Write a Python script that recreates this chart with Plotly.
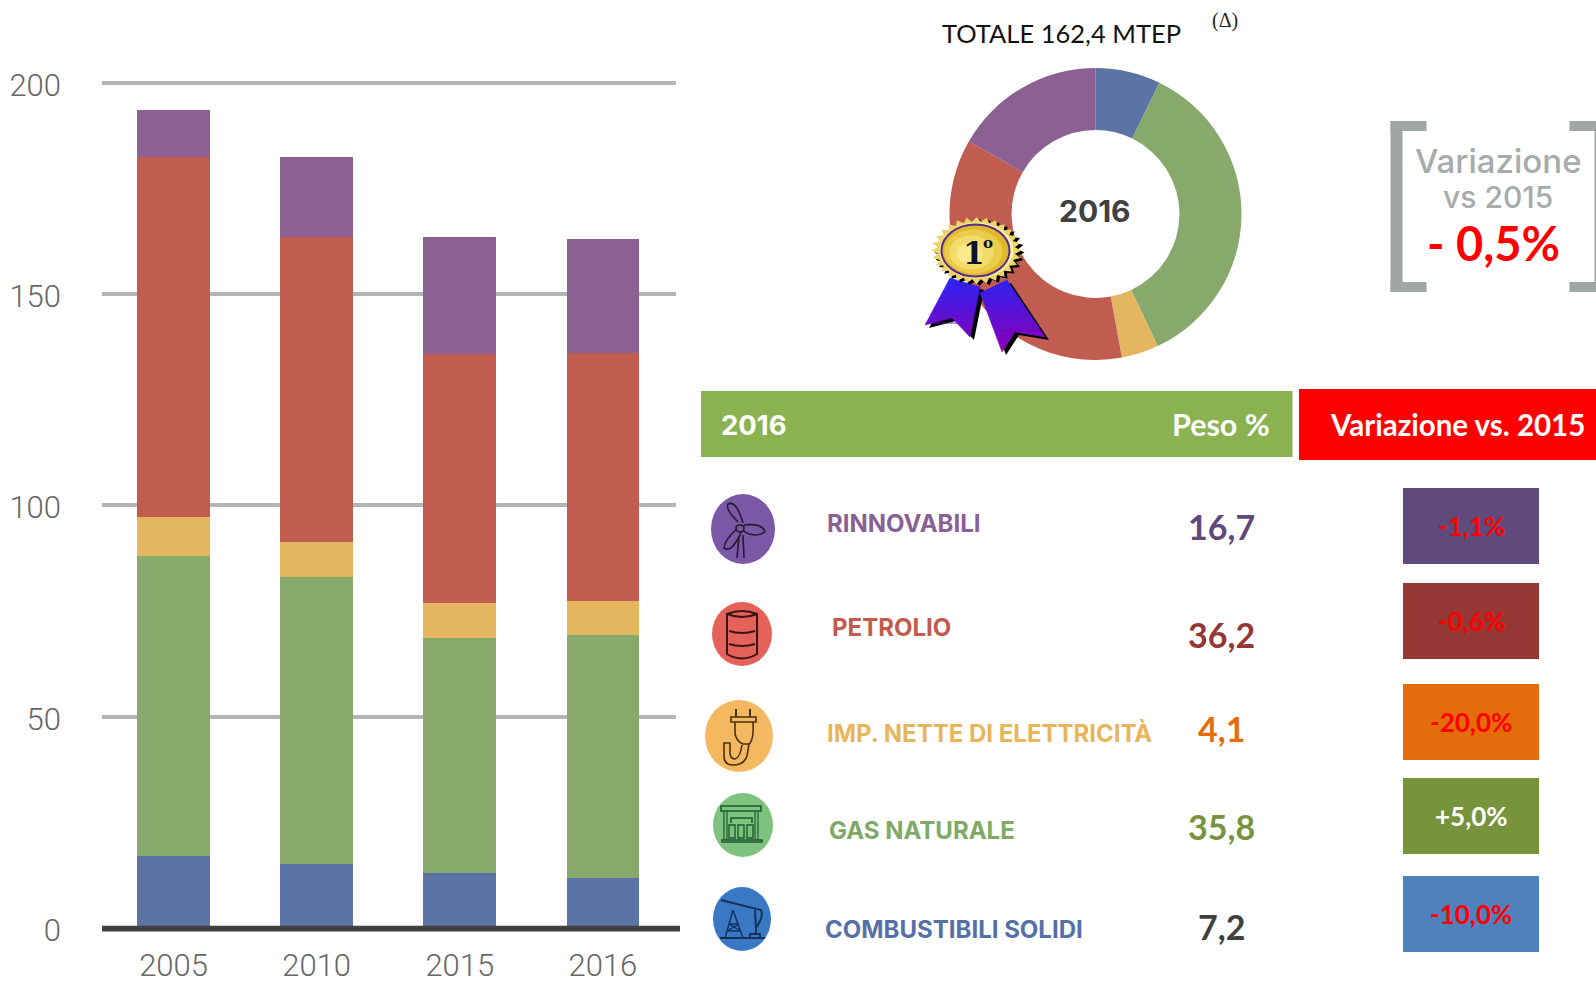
import re
import math
import plotly.graph_objects as go

# ---------- data ----------
years = ["2005", "2010", "2015", "2016"]
solidi = [17.1, 15.2, 13.0, 11.8]
gas = [70.9, 67.9, 55.7, 57.6]
elettricita = [9.3, 8.2, 8.2, 7.9]
petrolio = [85.1, 72.1, 59.0, 58.8]
rinnovabili = [11.1, 19.0, 27.5, 27.0]
y_ticks = [0, 50, 100, 150, 200]

fonti = ["COMBUSTIBILI SOLIDI", "GAS NATURALE", "IMP. NETTE DI ELETTRICITÀ", "PETROLIO", "RINNOVABILI"]
peso = [7.2, 35.8, 4.1, 36.2, 16.7]
colori = ["#5c73a5", "#87aa6c", "#e4b660", "#c15c50", "#8c6092"]

righe = ["RINNOVABILI", "PETROLIO", "IMP. NETTE DI ELETTRICITÀ", "GAS NATURALE", "COMBUSTIBILI SOLIDI"]
peso_txt = ["16,7", "36,2", "4,1", "35,8", "7,2"]
var_txt = ["-1,1%", "-0,6%", "-20,0%", "+5,0%", "-10,0%"]
var_col = ["#ff0000", "#ff0000", "#ff0000", "#ffffff", "#ff0000"]
riga_lab_col = ["#8a5f96", "#c25a4e", "#e8b55a", "#7fa966", "#5570a8"]
riga_val_col = ["#604a7b", "#953735", "#e46c0a", "#77933c", "#404040"]
riga_box_col = ["#604a7b", "#953735", "#e46c0a", "#77933c", "#4f81bd"]
icona_col = ["#7a58a6", "#e5625a", "#f4b860", "#7fc27f", "#3a78c4"]

W, H = 1596, 983
LAT = "Lato, Carlito, sans-serif"
MON = "Inter, sans-serif"

fig = go.Figure()
for name, vals, col in zip(fonti, [solidi, gas, elettricita, petrolio, rinnovabili], colori):
    fig.add_bar(x=years, y=vals, name=name, marker=dict(color=col, line=dict(width=0)), xaxis="x", yaxis="y")

cx, cy, R = 1095.5, 214, 146
fig.add_pie(labels=fonti, values=peso, hole=0.575, sort=False, direction="clockwise", rotation=0,
            marker=dict(colors=colori, line=dict(width=0)), textinfo="none", automargin=False,
            domain=dict(x=[(cx - R) / W, (cx + R) / W], y=[1 - (cy + R) / H, 1 - (cy - R) / H]))

shapes, notes = [], []


def rect(x0, y0, x1, y1, col):
    shapes.append(dict(type="rect", xref="x2", yref="y2", x0=x0, y0=y0, x1=x1, y1=y1,
                       fillcolor=col, line=dict(width=0), layer="above"))


def ell(ex, ey, rx, ry, col, line=None, lw=0):
    shapes.append(dict(type="circle", xref="x2", yref="y2", x0=ex - rx, y0=ey - ry, x1=ex + rx, y1=ey + ry,
                       fillcolor=col, line=dict(width=lw, color=line or col), layer="above"))


def shift(px, py, d):
    out, isx = [], True
    for t in re.findall(r"[MLQCZ]|-?\d+\.?\d*", d):
        if t.isalpha():
            out.append(t)
        else:
            out.append(f"{float(t) + (px if isx else py):.2f}")
            isx = not isx
    return " ".join(out)


def glyph(px, py, d, col, lw=1.6, fill="rgba(0,0,0,0)"):
    shapes.append(dict(type="path", xref="x2", yref="y2", path=shift(px, py, d),
                       line=dict(color=col, width=lw), fillcolor=fill, layer="above"))


def poly(pts, col, lw=0):
    d = "M " + " L ".join(f"{a:.2f} {b:.2f}" for a, b in pts) + " Z"
    shapes.append(dict(type="path", xref="x2", yref="y2", path=d, fillcolor=col,
                       line=dict(width=lw, color=col), layer="above"))


def txt(x, y, s, size, col, fam=LAT, bold=False, anchor="center", weight=None):
    f = dict(size=size, color=col, family=fam)
    if weight:
        f["weight"] = weight
    notes.append(dict(xref="x2", yref="y2", x=x, y=y, text=f"<b>{s}</b>" if bold else s, showarrow=False,
                      xanchor=anchor, yanchor="middle", font=f))


# baseline
rect(102, 925.8, 680, 931.6, "#404040")

# heading
txt(940, 33, "TOTALE 162,4 MTEP", 25.5, "#111111", anchor="left")
txt(1224.5, 20, "(Δ)", 20, "#222222", fam="Liberation Serif")
txt(1095, 211, "2016", 30, "#404040", fam=MON, bold=True)

# bracket
GR = "#a0a5a5"
rect(1390.5, 121, 1402.5, 292, GR)
rect(1390.5, 121, 1426.5, 131, GR)
rect(1390.5, 282, 1426.5, 292, GR)
rect(1569.5, 121, 1596, 131, GR)
rect(1569.5, 282, 1596, 292, GR)
rect(1594.5, 121, 1596, 292, GR)
txt(1498, 161, "Variazione", 33, "#a6abab", fam=MON, weight=500)
txt(1498, 197, "vs 2015", 30, "#a6abab", fam=MON, weight=500)
txt(1493, 243, "- 0,5%", 47, "#ff0000", bold=True)


# medal
def clip(pts, y0, y1):
    def cut(ps, keep, yb):
        res = []
        for i, p in enumerate(ps):
            q = ps[(i + 1) % len(ps)]
            if keep(p):
                res.append(p)
            if keep(p) != keep(q):
                t = (yb - p[1]) / (q[1] - p[1])
                res.append((p[0] + t * (q[0] - p[0]), yb))
        return res
    r = cut(pts, lambda p: p[1] >= y0, y0)
    return cut(r, lambda p: p[1] <= y1, y1) if r else r


ribbons = [[(950, 278), (980, 287), (970, 337), (952, 318), (925, 325)],
           [(980, 293), (1007, 280), (1045, 337), (1015, 332), (1002, 352)]]
for rb in ribbons:
    poly([(a + 4, b + 3) for a, b in rb], "#000000")
    n = 10
    for i in range(n):
        y0 = 278 + i * 7.5
        pc = clip(rb, y0, y0 + 7.6)
        if len(pc) > 2:
            t = i / (n - 1)
            col = f"rgb({int(48 + t * 90)},{int(34 - t * 34)},{int(240 - t * 55)})"
            poly(pc, col, 0.5)

mx, my = 976.5, 250.5
teeth = 28
star = []
for i in range(teeth * 2):
    a = math.pi * i / teeth
    k = 1.0 if i % 2 == 0 else 0.86
    star.append((mx + 45 * k * math.cos(a), my + 33.5 * k * math.sin(a)))
poly([(a + 3, b + 2) for a, b in star], "#000000")
poly(star, "#ecd566")
ell(mx, my, 37, 28, "#fbf2a8")
ell(mx - 1, my, 34, 26, "#e0b830", "#5a2a8a", 2)
ell(mx - 3, my + 1, 29, 22, "#eccb48")
ell(mx - 5, my + 2, 22, 17, "#f3dc6a")
ell(mx - 7, my + 3, 13, 10, "#f9e98c")
txt(974, 253, "1", 31, "#0b1530", fam="DejaVu Serif", bold=True)
txt(988, 243, "o", 15, "#0b1530", fam="DejaVu Serif", bold=True)

# table header
rect(701, 391, 1292.5, 457, "#8bb251")
rect(1299, 389, 1596, 460, "#ff0000")
txt(719, 424.5, "2016", 27.5, "#ffffff", fam=MON, bold=True, anchor="left")
txt(1170, 424, "Peso %", 30.5, "#ffffff", bold=True, anchor="left")
txt(1327.5, 424, "Variazione vs. 2015", 29.5, "#ffffff", bold=True, anchor="left")

# table rows
lab_x = [825, 830, 825, 827, 823]
lab_y = [523, 627, 733, 830, 929]
val_y = [526, 634, 728, 826, 926]
box_y = [(488, 564), (583, 659), (684, 760), (778, 854), (876, 952)]
var_y = [526, 621, 722, 816, 914]
ic_c = [(743, 529, 32, 35), (742, 634, 30, 32), (739, 736, 34, 36), (743, 825, 30, 32), (742, 919, 29, 32)]
for i in range(5):
    txt(lab_x[i], lab_y[i], righe[i], 24, riga_lab_col[i], fam=MON, bold=True, anchor="left")
    txt(1221, val_y[i], peso_txt[i], 34, riga_val_col[i], bold=True)
    rect(1403, box_y[i][0], 1539, box_y[i][1], riga_box_col[i])
    txt(1471, var_y[i], var_txt[i], 26, var_col[i], bold=True)
    ell(ic_c[i][0], ic_c[i][1], ic_c[i][2], ic_c[i][3], icona_col[i])

# icons
K = "#231a2e"
p = (743, 529)
glyph(*p, "M -5 -7 Q -18 -20 -15 -25 Q -9 -28 -4 -17 Q -1 -10 0 -6", K)
glyph(*p, "M 1 -4 Q 18 -6 22 2 Q 18 8 6 5 Q 1 3 0 1", K)
glyph(*p, "M -6 0 Q -18 10 -19 19 Q -13 23 -7 13 Q -3 7 -2 3", K)
glyph(*p, "M -3 -4 Q 1 -4 1 -1 Q 1 3 -3 3 Q -7 3 -7 -1 Q -7 -4 -3 -4 Z", K, 1.6)
glyph(*p, "M -4 7 L -6 29 M 0 6 L 1 29", K)
K = "#3a1414"
p = (742, 634)
glyph(*p, "M -15 -20 Q 0 -26 15 -20 L 15 20 Q 0 29 -15 20 Z", K, 2)
glyph(*p, "M -15 -20 Q 0 -14 15 -20", K, 2)
glyph(*p, "M -13 -3 Q 0 1 13 -3", K, 2)
glyph(*p, "M -13 10 Q 0 14 13 10", K, 2)
K = "#4a3010"
p = (739, 736)
glyph(*p, "M -3 -27 L -3 -19 M 11 -27 L 11 -19", K, 2)
glyph(*p, "M -8 -19 L 17 -19 L 17 -14 L -8 -14 Z", K)
glyph(*p, "M -4 -14 L -4 -2 Q -2 6 4 8 L 10 8 Q 15 4 14 -14", K)
glyph(*p, "M 10 8 L 8 20 Q 5 29 -6 29 Q -15 29 -15 20 L -15 7 L -9 7 L -9 18 Q -8 23 -4 23 Q 1 22 3 9", K)
K = "#1f5a30"
p = (743, 825)
glyph(*p, "M -22 -19 L 18 -19 L 18 -14 L -22 -14 Z", K)
glyph(*p, "M -19 -14 L -19 15 M -16 -14 L -16 15 M 12 -14 L 12 15 M 15 -14 L 15 15", K, 1.2)
glyph(*p, "M -21 15 L 19 15 L 19 17 L -21 17 Z", K)
glyph(*p, "M -12 -2 L -12 -7 L 9 -7 L 9 -2", K)
for dx in (-11, -2, 7):
    glyph(p[0] + dx, p[1], "M -3 0 L 3 0 L 3 13 L -3 13 Z", K, 1.4)
K = "#12325e"
p = (742, 919)
glyph(*p, "M -22 19 L 23 19", K, 2)
glyph(*p, "M -9 -9 L -17 19 M -9 -9 L 1 19 M -13 5 L -3 5 M -15 12 L -1 12 M -13 5 L -1 12 M -15 12 L -3 5", K, 1.4)
glyph(*p, "M -21 -19 L 19 -9 Q 22 -3 14 9 L 13 -9", K, 2)
glyph(*p, "M 14 9 L 14 15 M 8 19 L 8 15 L 18 15 L 18 19", K, 1.8)

TICKF = dict(size=31, color="#666666", family="Roboto", weight=300)
fig.update_layout(
    width=W, height=H, margin=dict(l=0, r=0, t=0, b=0, pad=0, autoexpand=False),
    paper_bgcolor="#ffffff", plot_bgcolor="rgba(0,0,0,0)",
    barmode="stack", bargap=0.493, showlegend=False, shapes=shapes, annotations=notes,
    font=dict(family="Liberation Sans"),
    xaxis=dict(domain=[102 / W, 676 / W], type="category", range=[-0.5, 3.511], showgrid=False, zeroline=False,
               showline=False, ticks="", ticklabelstandoff=16, anchor="y", automargin=False, tickfont=TICKF),
    yaxis=dict(domain=[1 - 928 / H, 1 - 60 / H], range=[0, 205.4], tickvals=y_ticks, showgrid=True,
               gridcolor="#b2b4b7", gridwidth=3.5, zeroline=False, showline=False, ticks="",
               ticklabelstandoff=40, ticklabelshift=2, anchor="x", automargin=False, tickfont=TICKF),
    xaxis2=dict(domain=[0, 1], range=[0, W], visible=False, anchor="y2", automargin=False),
    yaxis2=dict(domain=[0, 1], range=[H, 0], visible=False, anchor="x2", automargin=False),
)
# the overlay axes need a trace so they exist
fig.add_scatter(x=[0], y=[0], xaxis="x2", yaxis="y2", mode="markers", marker=dict(opacity=0), hoverinfo="skip")

fig.write_html("out.html", config=dict(displayModeBar=False),
               post_script="document.body.style.margin='0';document.body.style.overflow='hidden';")
